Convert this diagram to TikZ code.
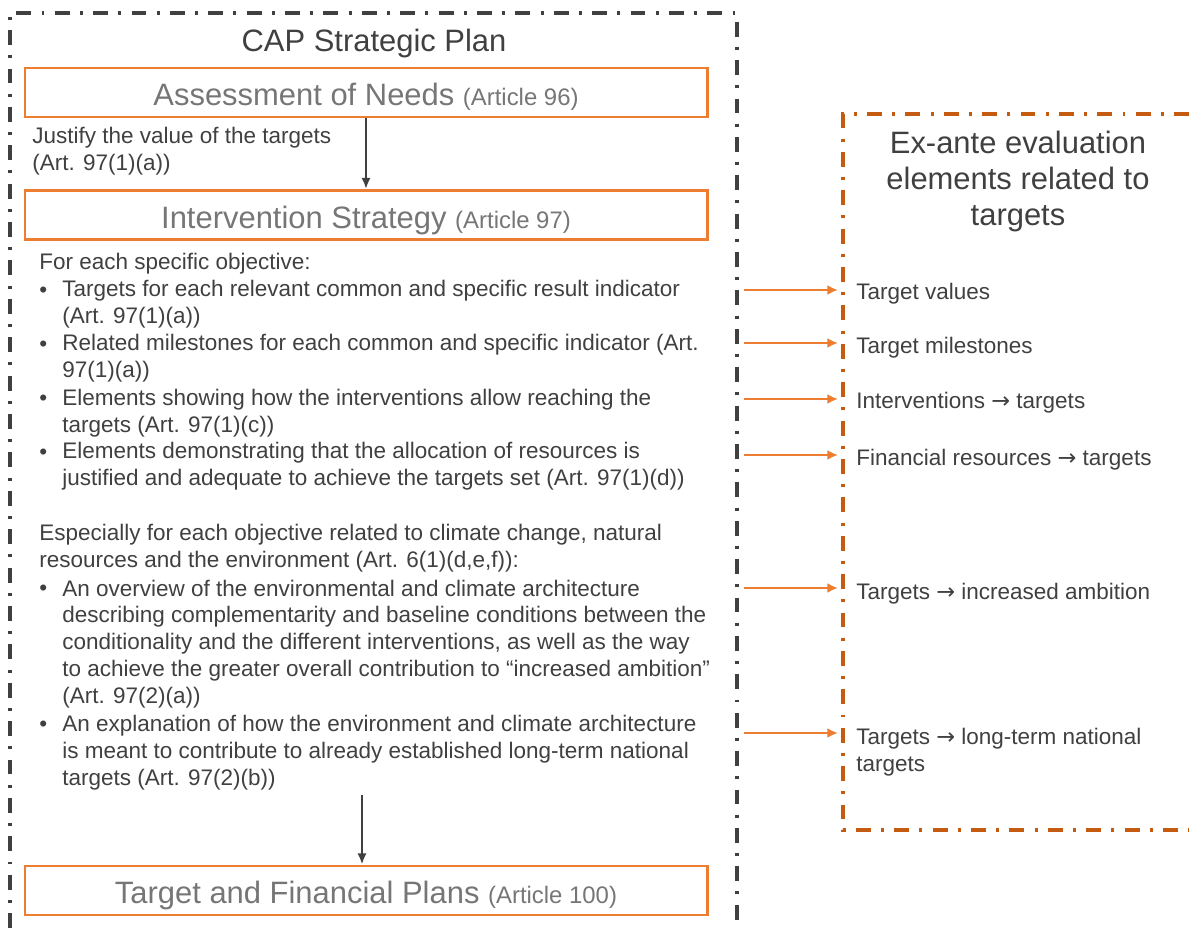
\documentclass[tikz,border=0pt]{standalone}
\usepackage{xcolor}
\usepackage{fontspec}
\setmainfont{Liberation Sans}
\newfontfamily\arrowfont{DejaVu Sans}
\usetikzlibrary{arrows.meta}
\definecolor{darktext}{RGB}{64,64,64}
\definecolor{greytitle}{RGB}{118,118,118}
\definecolor{planorange}{RGB}{237,125,49}
\definecolor{exanteorange}{RGB}{197,90,17}
\newcommand{\artref}[1]{{\fontsize{17}{20}\selectfont #1}}
\newcommand{\tgtarrow}{{\arrowfont →}}
\tikzstyle{title}=[text=darktext, inner sep=0pt, font=\fontsize{22}{25.5}\selectfont]
\tikzstyle{planbox}=[draw=planorange, line width=2pt, minimum width=17.05cm, minimum height=1.225cm,
  text=greytitle, font=\fontsize{22}{26}\selectfont, text height=19pt, text depth=0pt]
\tikzstyle{body}=[text=darktext, anchor=base west, align=left, inner sep=0pt, font=\fontsize{16}{19}\selectfont]
\tikzset{capframe/.style={draw=darktext, line width=2.2pt, dash pattern=on 10.6pt off 7.3pt on 2.1pt off 7.3pt}}
\tikzset{exframe/.style={capframe, draw=exanteorange}}
\tikzset{flow/.style={draw=darktext, line width=1.6pt, -{Latex[length=8pt,width=6.5pt]}}}
\tikzset{link/.style={draw=planorange, line width=2.1pt, -{Latex[length=7.5pt,width=7pt]}, shorten >=0.45cm}}

\begin{document}
\begin{tikzpicture}[x=0.025cm,y=-0.025cm]
  \useasboundingbox (0,0) rectangle (1189,928);

  %% CAP Strategic Plan (multi-line texts sit on their last baseline)
  \draw[capframe] (10,928) -- (10,13) -- (737,13) -- (737,928);
  \draw (374,51) node[title,anchor=base] (cap) {CAP Strategic Plan};

  \draw (366,92.5) node[planbox] (assess) {Assessment of Needs \artref{(Article 96)}};
  \draw (32,170) node[body] (justify) {Justify the value of the targets\\(Art. 97(1)(a))};
  \draw (366,215) node[planbox] (interv) {Intervention Strategy \artref{(Article 97)}};
  \draw (366,890.5) node[planbox] (plans) {Target and Financial Plans \artref{(Article 100)}};

  \draw (39,269) node[body] (spec) {For each specific objective:};
  \draw (39,297) node[body] (d1) {\textbullet};
  \draw (62,323) node[body] (b1) {Targets for each relevant common and specific result indicator\\(Art. 97(1)(a))};
  \draw (39,351) node[body] (d2) {\textbullet};
  \draw (62,377) node[body] (b2) {Related milestones for each common and specific indicator (Art.\\97(1)(a))};
  \draw (39,405) node[body] (d3) {\textbullet};
  \draw (62,432) node[body] (b3) {Elements showing how the interventions allow reaching the\\targets (Art. 97(1)(c))};
  \draw (39,459) node[body] (d4) {\textbullet};
  \draw (62,485) node[body] (b4) {Elements demonstrating that the allocation of resources is\\justified and adequate to achieve the targets set (Art. 97(1)(d))};

  \draw (39,567) node[body] (climate) {Especially for each objective related to climate change, natural\\resources and the environment (Art. 6(1)(d,e,f)):};
  \draw (39,595) node[body] (d5) {\textbullet};
  \draw (62,703) node[body] (b5) {An overview of the environmental and climate architecture\\describing complementarity and baseline conditions between the\\conditionality and the different interventions, as well as the way\\to achieve the greater overall contribution to “increased ambition”\\(Art. 97(2)(a))};
  \draw (39,731) node[body] (d6) {\textbullet};
  \draw (62,785) node[body] (b6) {An explanation of how the environment and climate architecture\\is meant to contribute to already established long-term national\\targets (Art. 97(2)(b))};

  \draw[flow] (assess) -- (interv);
  \coordinate (down) at (362,795);
  \draw[flow] (down) -- (down |- plans.north);

  %% Ex-ante evaluation
  \draw[exframe] (1189,114) -- (843,114) -- (843,830) -- (1189,830);
  \draw (1018,225) node[title,anchor=base,align=center] (exante) {Ex-ante evaluation\\elements related to\\targets};

  \draw (856,299) node[body] (t1) {Target values};
  \draw (856,353) node[body] (t2) {Target milestones};
  \draw (856,408) node[body] (t3) {Interventions \tgtarrow{} targets};
  \draw (856,465) node[body] (t4) {Financial resources \tgtarrow{} targets};
  \draw (856,599) node[body] (t5) {Targets \tgtarrow{} increased ambition};
  \draw (856,771) node[body] (t6) {Targets \tgtarrow{} long-term national\\targets};

  \coordinate (s1) at (744,290);
  \coordinate (s2) at (744,343);
  \coordinate (s3) at (744,399);
  \coordinate (s4) at (744,455);
  \coordinate (s5) at (744,588);
  \coordinate (s6) at (744,733);
  \draw[link] (s1) -- (s1 -| t1.west);
  \draw[link] (s2) -- (s2 -| t2.west);
  \draw[link] (s3) -- (s3 -| t3.west);
  \draw[link] (s4) -- (s4 -| t4.west);
  \draw[link] (s5) -- (s5 -| t5.west);
  \draw[link] (s6) -- (s6 -| t6.west);
\end{tikzpicture}
\end{document}
